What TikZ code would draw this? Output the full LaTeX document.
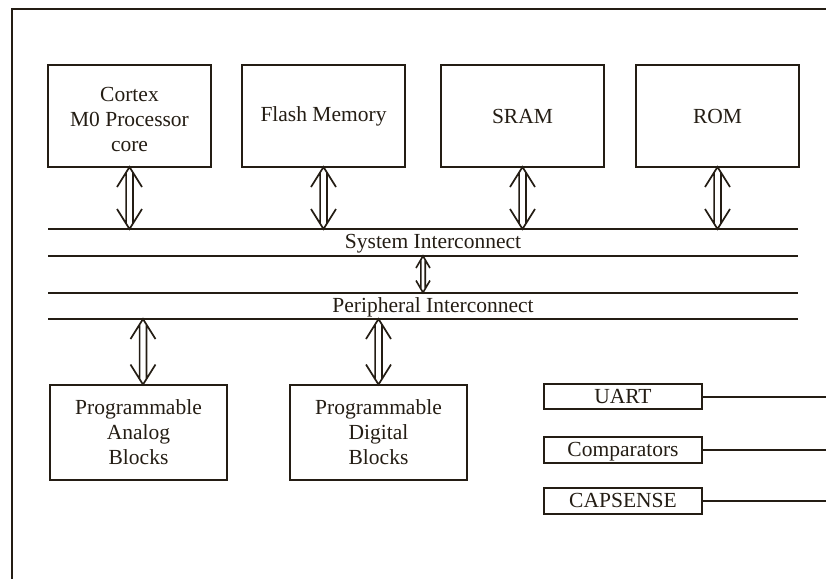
\documentclass[tikz,border=0pt]{standalone}
\usepackage{fontspec}
\setmainfont{Liberation Serif}
\usetikzlibrary{calc}
\definecolor{ink}{RGB}{36,29,20}
\begin{document}
\begin{tikzpicture}[x=1pt,y=-1pt,
  box/.style={draw=ink, line width=2pt, text=ink, align=center, inner sep=0pt, outer sep=0pt,
    font=\fontsize{21.5}{25}\selectfont},
  bigbox/.style={box, minimum width=163pt, minimum height=102pt},
  pbox/.style={box, minimum width=177pt, minimum height=95pt},
  sbox/.style={box, minimum width=158pt, minimum height=25.5pt, text height=13pt, text depth=0pt},
  bus/.style={draw=ink, line width=2pt},
  frame/.style={draw=ink, line width=2pt},
  lbl/.style={text=ink, inner sep=0pt, font=\fontsize{21.5}{25}\selectfont},
  buslbl/.style={lbl, text height=13pt, text depth=0pt},
  bigdarr/.style={draw=ink, line width=1.7pt, line join=miter, to path={
    ($(\tikztostart)+(-3.4,5.5)$) -- ($(\tikztotarget)+(-3.4,-5.5)$)
    ($(\tikztostart)+(3.4,5.5)$) -- ($(\tikztotarget)+(3.4,-5.5)$)
    ($(\tikztostart)+(-12.5,20)$) -- (\tikztostart) -- ($(\tikztostart)+(12.5,20)$)
    ($(\tikztotarget)+(-12.5,-20)$) -- (\tikztotarget) -- ($(\tikztotarget)+(12.5,-20)$)
  }},
  smalldarr/.style={draw=ink, line width=1.6pt, line join=miter, to path={
    ($(\tikztostart)+(-2.2,3.8)$) -- ($(\tikztotarget)+(-2.2,-3.8)$)
    ($(\tikztostart)+(2.2,3.8)$) -- ($(\tikztotarget)+(2.2,-3.8)$)
    ($(\tikztostart)+(-7,12)$) -- (\tikztostart) -- ($(\tikztostart)+(7,12)$)
    ($(\tikztotarget)+(-7,-12)$) -- (\tikztotarget) -- ($(\tikztotarget)+(7,-12)$)
  }},
]
\useasboundingbox (0,0) rectangle (826,579);
\fill[white] (0,0) rectangle (826,579);

% outer frame (cropped)
\draw[frame] (826,9) -- (12,9) -- (12,579);

% top blocks
\node[bigbox, label={[lbl,align=center,yshift=-3.5pt]center:Cortex\\M0 Processor\\core}] (cortex) at (129.5,116) {};
\node[bigbox] (flash) at (323.5,116) {Flash Memory};
\node[bigbox] (sram) at (522.5,116) {SRAM};
\node[bigbox] (rom) at (717.5,116) {ROM};

% bus lines
\coordinate (s1l) at (48,229); \coordinate (s1r) at (798,229);
\coordinate (s2l) at (48,256); \coordinate (s2r) at (798,256);
\coordinate (p1l) at (48,292.5); \coordinate (p1r) at (798,292.5);
\coordinate (p2l) at (48,319); \coordinate (p2r) at (798,319);
\draw[bus] (s1l) -- (s1r);
\draw[bus] (s2l) -- (s2r);
\draw[bus] (p1l) -- (p1r);
\draw[bus] (p2l) -- (p2r);

\node[buslbl] (sysic) at (433,242) {System Interconnect};
\node[buslbl] (peric) at (433,305.5) {Peripheral Interconnect};

% arrows between blocks and system bus
\coordinate (tc) at (cortex.south |- s1l);
\coordinate (tf) at (flash.south |- s1l);
\coordinate (ts) at (sram.south |- s1l);
\coordinate (tr) at (rom.south |- s1l);
\draw[bigdarr] (cortex.south) to (tc);
\draw[bigdarr] (flash.south) to (tf);
\draw[bigdarr] (sram.south) to (ts);
\draw[bigdarr] (rom.south) to (tr);

% arrow between buses
\coordinate (m1) at (423,256);
\coordinate (m2) at (423,292.5);
\draw[smalldarr] (m1) to (m2);

% lower blocks
\node[pbox] (analog) at (138.5,432) {Programmable\\Analog\\Blocks};
\node[pbox] (digital) at (378.5,432) {Programmable\\Digital\\Blocks};

\coordinate (aa) at ($(analog.north)+(4.5,0)$);
\coordinate (pa) at (aa |- p2l);
\coordinate (pd) at (digital.north |- p2l);
\draw[bigdarr] (pa) to (aa);
\draw[bigdarr] (pd) to (digital.north);

% small blocks
\node[sbox] (uart) at (623,396.5) {UART};
\node[sbox] (comp) at (623,450) {Comparators};
\node[sbox] (caps) at (623,501) {CAPSENSE};

\coordinate (ue) at (826,396.5);
\coordinate (ce) at (826,450);
\coordinate (ke) at (826,501);
\draw[bus] (uart.east) -- (ue);
\draw[bus] (comp.east) -- (ce);
\draw[bus] (caps.east) -- (ke);
\end{tikzpicture}
\end{document}
